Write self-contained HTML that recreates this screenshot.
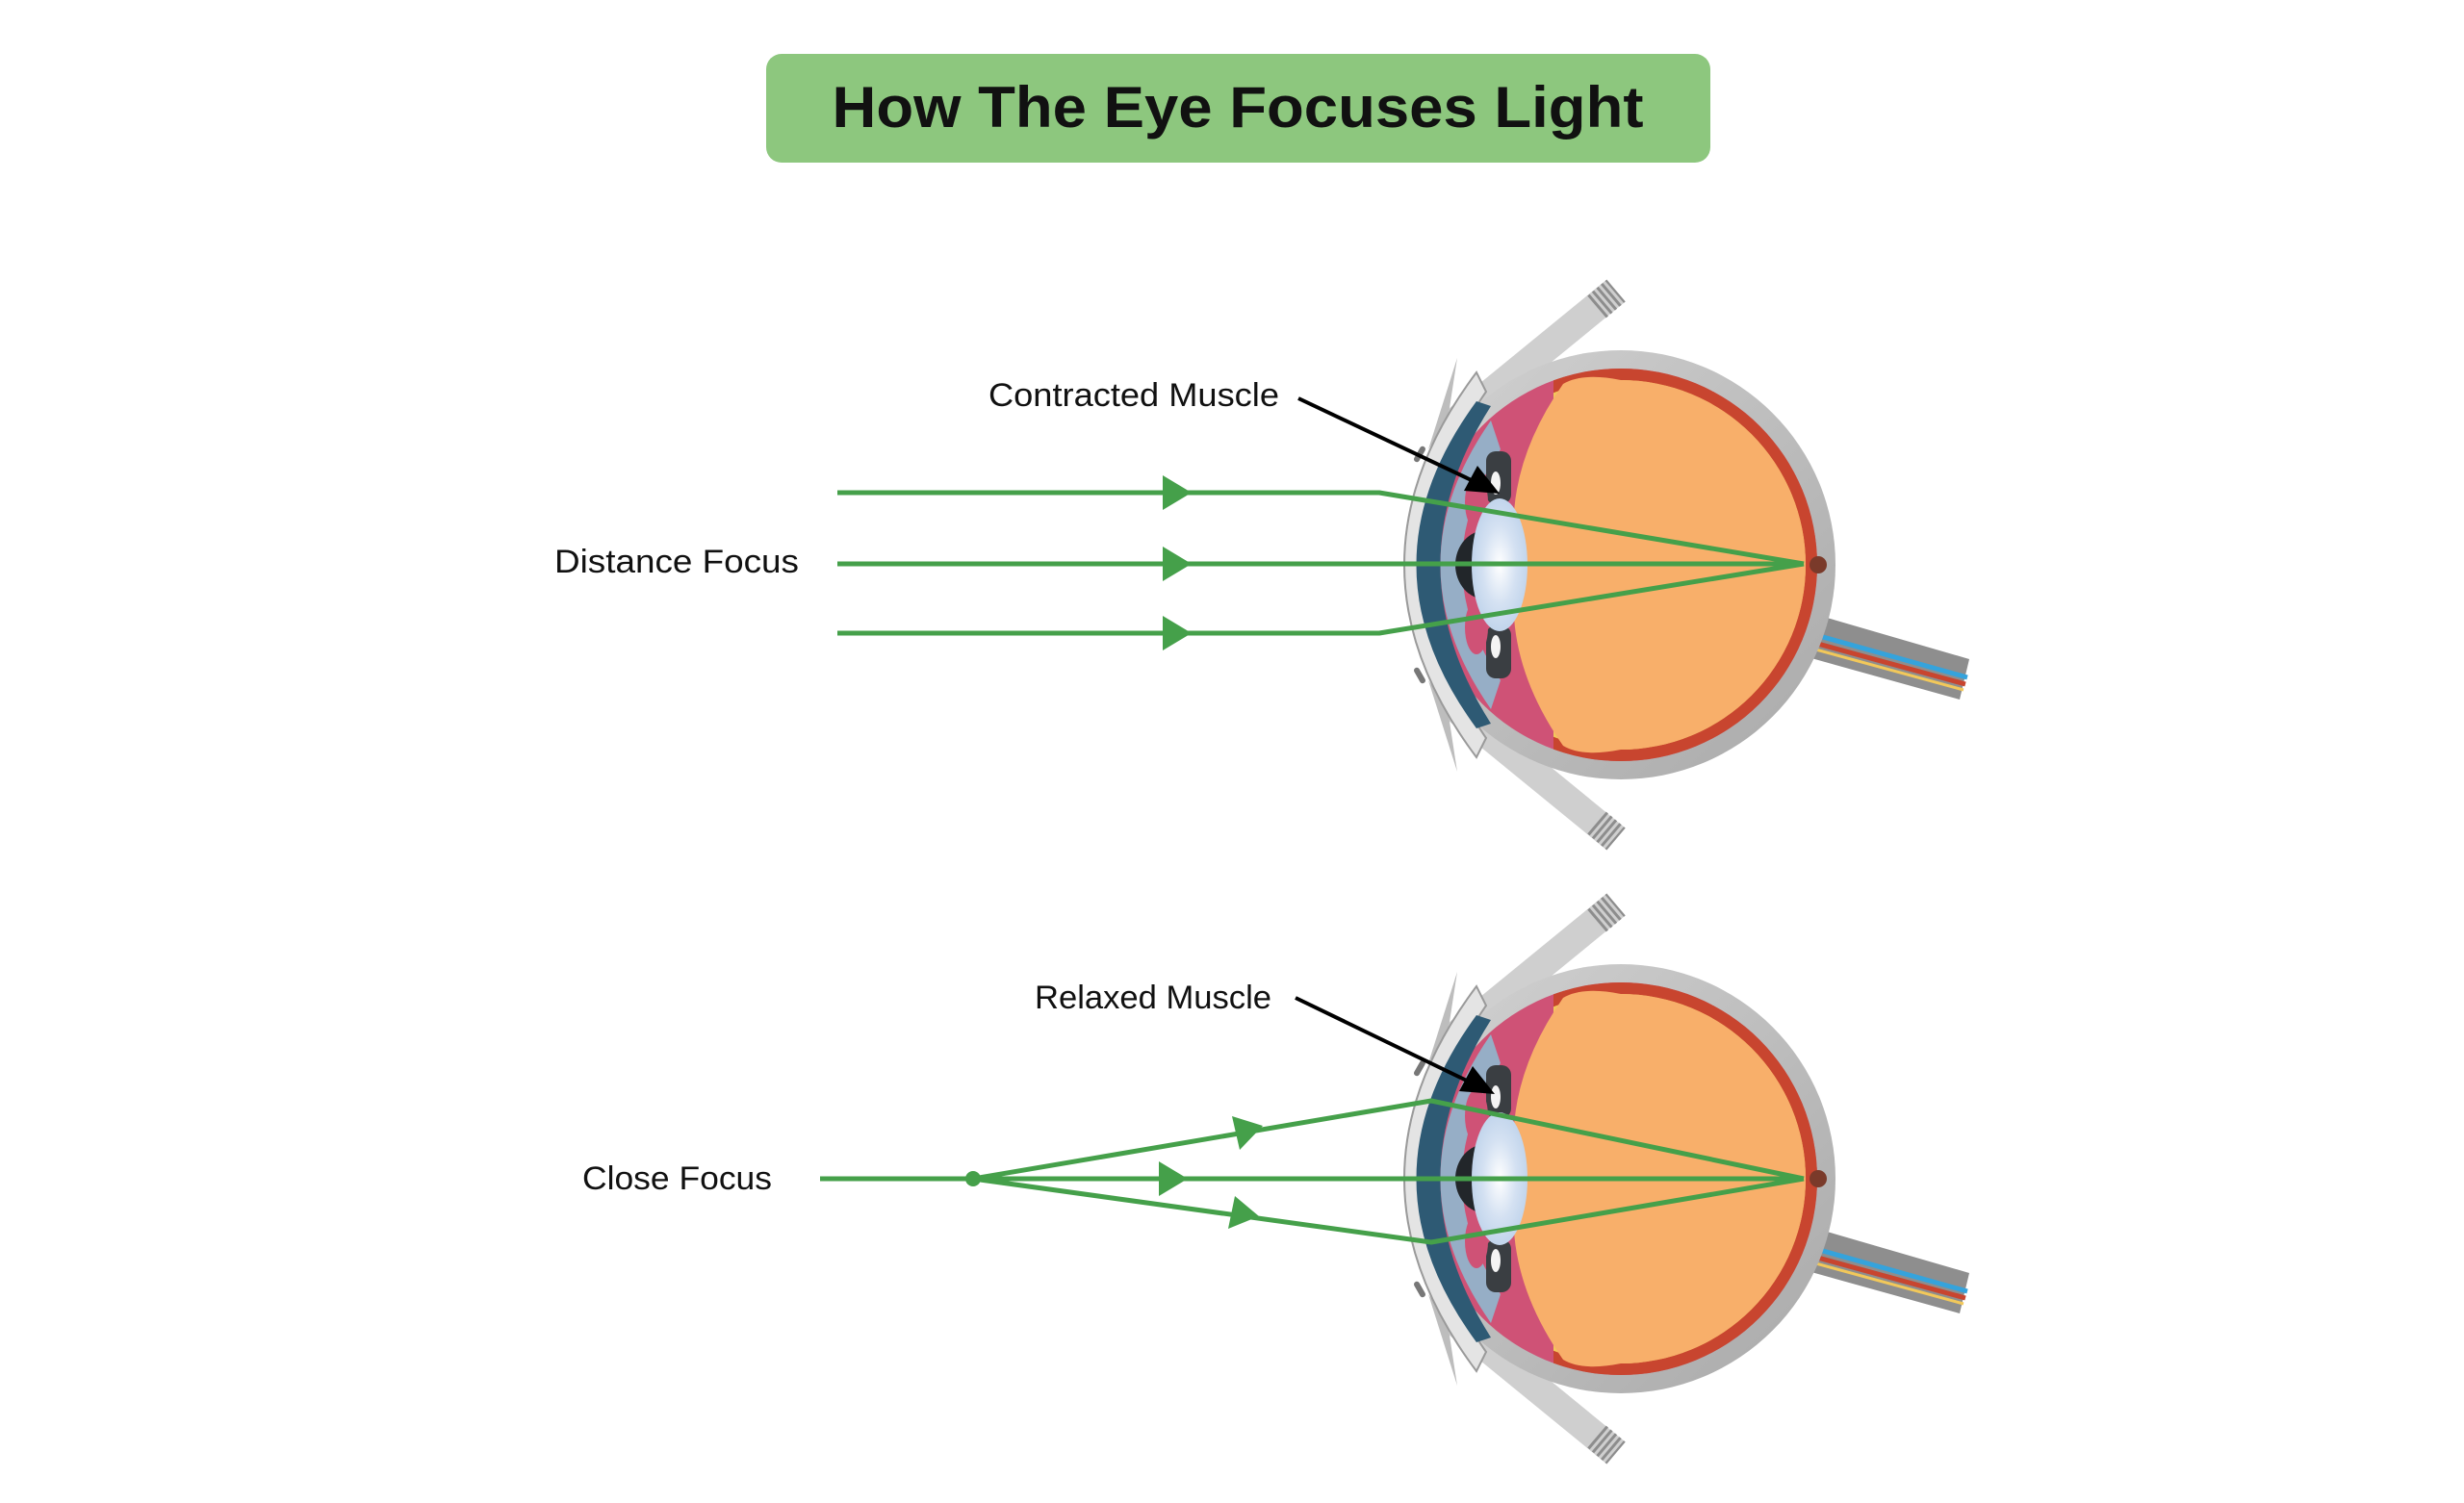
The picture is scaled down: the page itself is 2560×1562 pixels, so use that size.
<!DOCTYPE html>
<html><head><meta charset="utf-8"><style>
html,body{margin:0;padding:0;background:#fff;width:2560px;height:1562px;overflow:hidden}
</style></head><body>
<svg width="2560" height="1562" viewBox="0 0 2560 1562" xmlns="http://www.w3.org/2000/svg">
<defs>
<radialGradient id="lens" cx="0.5" cy="0.5" r="0.6"><stop offset="0" stop-color="#ffffff"/><stop offset="0.5" stop-color="#d4e1f2"/><stop offset="1" stop-color="#b9cfe9"/></radialGradient>
<linearGradient id="scl" x1="0" y1="0" x2="1" y2="1"><stop offset="0" stop-color="#d2d2d2"/><stop offset="1" stop-color="#a9a9a9"/></linearGradient>
<clipPath id="rc"><rect x="-70" y="-260" width="400" height="520"/></clipPath>
<g id="eye">
  <!-- eyelids -->
  <line x1="-170" y1="-150" x2="-5" y2="-285" stroke="#cfcfcf" stroke-width="30"/>
  <line x1="-170" y1="150" x2="-5" y2="285" stroke="#cfcfcf" stroke-width="30"/>
  <line x1="-25" y1="-268" x2="-5" y2="-285" stroke="#8d8d8d" stroke-width="30" stroke-dasharray="3 3"/>
  <line x1="-25" y1="268" x2="-5" y2="285" stroke="#8d8d8d" stroke-width="30" stroke-dasharray="3 3"/>
  <path d="M-170,-215 L-180,-150 L-200,-120 Z" fill="#bdbdbd"/>
  <path d="M-170,215 L-180,150 L-200,120 Z" fill="#bdbdbd"/>
  <!-- optic nerve -->
  <polygon points="190,48 362,98 352,140 180,92" fill="#8e8e8e"/>
  <line x1="190" y1="78" x2="358" y2="124" stroke="#c8452f" stroke-width="5"/>
  <line x1="192" y1="70" x2="360" y2="117" stroke="#35a3dc" stroke-width="5"/>
  <line x1="188" y1="84" x2="356" y2="130" stroke="#f2c85a" stroke-width="3"/>
  <!-- sclera -->
  <circle cx="0" cy="0" r="223" fill="url(#scl)"/>
  <circle cx="0" cy="0" r="204" fill="#cf5276"/>
  <g clip-path="url(#rc)">
    <circle cx="0" cy="0" r="204" fill="#c8452f"/>
    <circle cx="0" cy="0" r="192" fill="#f2c85a"/>
    <circle cx="0" cy="0" r="186" fill="#7a3a2a"/>
    <circle cx="0" cy="0" r="181" fill="#fbc088"/>
  </g>
  <path d="M-60,-188 Q-40,-200 0,-192 A190,190 0 0 1 0,192 Q-40,200 -60,188 Q-125,95 -108,0 Q-125,-95 -60,-188 Z" fill="#f8af6a"/>
  <circle cx="205" cy="0" r="9" fill="#7a3a2a"/>
  <!-- cornea -->
  <path d="M-150,-200 Q-300,0 -150,200 L-140,180 Q-265,0 -140,-180 Z" fill="#e4e4e4" stroke="#9a9a9a" stroke-width="2"/>
  <path d="M-150,-170 Q-275,0 -150,170 L-135,165 Q-240,0 -135,-165 Z" fill="#2e5a74"/>
  <path d="M-135,-150 Q-240,0 -135,150 L-125,120 Q-205,0 -125,-120 Z" fill="#96aec6"/>
  <rect x="-212" y="-124" width="6" height="18" rx="3" fill="#777" transform="rotate(30 -209 -115)"/>
  <rect x="-212" y="106" width="6" height="18" rx="3" fill="#777" transform="rotate(-30 -209 115)"/>
  <!-- iris / ciliary -->
  <rect x="-140" y="-118" width="26" height="55" rx="10" fill="#3a3e42"/>
  <rect x="-140" y="63" width="26" height="55" rx="10" fill="#3a3e42"/>
  <ellipse cx="-150" cy="-65" rx="12" ry="28" fill="#cf5276"/>
  <ellipse cx="-150" cy="65" rx="12" ry="28" fill="#cf5276"/>
  <ellipse cx="-130" cy="-85" rx="5" ry="12" fill="#f4f4f4"/>
  <ellipse cx="-130" cy="85" rx="5" ry="12" fill="#f4f4f4"/>
  <ellipse cx="-140" cy="0" rx="32" ry="36" fill="#22262a"/>
  <ellipse cx="-126" cy="0" rx="29" ry="69" fill="url(#lens)"/>
</g>
</defs>

<rect x="796" y="56" width="981" height="113" rx="16" fill="#8dc77e"/>
<text x="1286" y="132" text-anchor="middle" font-family="Liberation Sans, sans-serif" font-weight="bold" font-size="60" fill="#111" textLength="843" lengthAdjust="spacingAndGlyphs">How The Eye Focuses Light</text>

<use href="#eye" transform="translate(1684,587)"/>
<use href="#eye" transform="translate(1684,1225)"/>

<g font-family="Liberation Sans, sans-serif" font-size="34" fill="#111">
  <text x="1027" y="422" textLength="302" lengthAdjust="spacingAndGlyphs">Contracted Muscle</text>
  <text x="576" y="595" textLength="254" lengthAdjust="spacingAndGlyphs">Distance Focus</text>
  <text x="1075" y="1048" textLength="246" lengthAdjust="spacingAndGlyphs">Relaxed Muscle</text>
  <text x="605" y="1236" textLength="197" lengthAdjust="spacingAndGlyphs">Close Focus</text>
</g>

<g stroke="#000" stroke-width="4" fill="#000">
  <line x1="1349" y1="414" x2="1535" y2="502"/>
  <polygon points="1558,513 1521,510 1535,484" stroke="none"/>
  <line x1="1346" y1="1037" x2="1530" y2="1126"/>
  <polygon points="1553,1137 1516,1134 1530,1108" stroke="none"/>
</g>

<g stroke="#45a04a" stroke-width="5" fill="none" stroke-linejoin="round">
  <polyline points="870,512 1433,512 1874,586"/>
  <polyline points="870,586 1874,586"/>
  <polyline points="870,658 1433,658 1874,586"/>
  <polyline points="852,1225 1874,1225"/>
  <polyline points="1011,1225 1487,1144 1874,1225"/>
  <polyline points="1011,1225 1487,1291 1874,1225"/>
</g>
<circle cx="1011" cy="1225" r="8" fill="#45a04a"/>
<g fill="#45a04a">
  <polygon points="1238,512 1208,494 1208,530"/>
  <polygon points="1238,586 1208,568 1208,604"/>
  <polygon points="1238,658 1208,640 1208,676"/>
  <polygon points="1234,1225 1204,1207 1204,1243"/>
  <polygon points="1312,1170 1280,1160 1288,1195"/>
  <polygon points="1308,1264 1283,1243 1276,1277"/>
</g>
</svg>
</body></html>
